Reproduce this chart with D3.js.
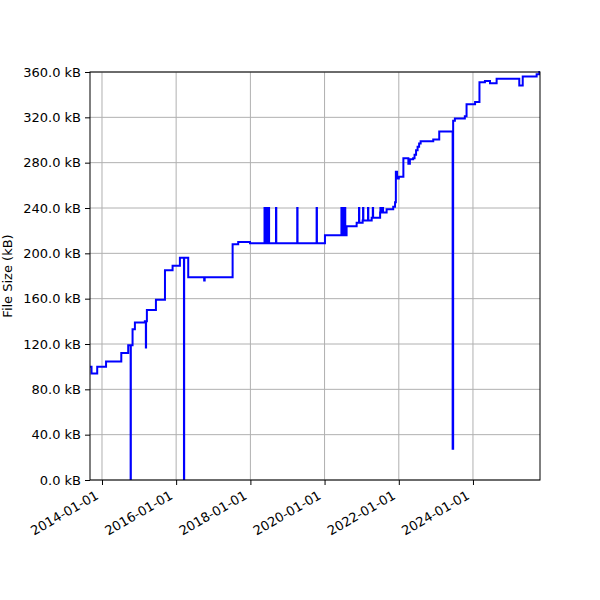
<!DOCTYPE html>
<html>
<head>
<meta charset="utf-8">
<script src="https://cdn.jsdelivr.net/npm/d3@7"></script>
<style>
  body { margin: 0; background: #fff; }
  svg text { font-family: "DejaVu Sans", sans-serif; }
</style>
</head>
<body>
<svg id="chart" width="600" height="600"></svg>
<script>
// commit dates and file sizes (kB)
const dates = [
  "2013-09-05", "2013-09-20", "2013-11-15", "2014-02-10", "2014-07-10", "2014-09-16",
  "2014-10-10", "2014-10-12", "2014-10-29", "2014-11-21", "2015-02-27", "2015-03-09",
  "2015-03-11", "2015-03-19", "2015-06-16", "2015-09-13", "2015-11-27", "2016-02-07",
  "2016-03-18", "2016-03-20", "2016-04-29", "2016-10-03", "2016-10-08", "2017-07-10",
  "2017-09-03", "2017-12-28",
  "2018-05-20", "2018-05-23", "2018-06-02", "2018-06-05", "2018-06-15", "2018-06-18",
  "2018-07-01", "2018-07-04", "2018-09-10", "2018-09-13", "2019-04-07", "2019-04-10",
  "2019-10-15", "2019-10-18", "2020-01-05",
  "2020-06-15", "2020-06-18", "2020-07-01", "2020-07-04", "2020-07-20", "2020-07-23",
  "2020-08-05", "2020-11-12", "2020-12-05", "2020-12-08", "2021-01-10", "2021-01-14",
  "2021-01-17", "2021-03-04", "2021-03-07", "2021-04-09", "2021-04-20", "2021-04-23",
  "2021-07-01", "2021-07-04", "2021-07-15", "2021-07-18", "2021-07-30", "2021-08-02",
  "2021-09-03", "2021-11-07", "2021-11-25", "2021-12-03", "2021-12-15", "2022-01-01",
  "2022-02-15", "2022-04-05", "2022-04-20", "2022-05-22", "2022-06-05", "2022-06-20",
  "2022-07-05", "2022-07-20", "2022-08-04", "2022-12-06", "2023-02-03", "2023-06-15",
  "2023-06-20", "2023-07-07", "2023-10-13", "2023-10-30", "2024-01-22", "2024-03-05",
  "2024-04-28", "2024-06-17", "2024-08-21", "2025-04-01", "2025-05-05", "2025-09-19",
  "2025-10-15", "2025-10-22"
];
const sizes = [
  100, 94, 100, 104.5, 112, 119,
  0, 119, 133, 139, 140, 117,
  140, 150, 159, 185, 189, 196,
  0, 196, 179, 176, 179, 208,
  210, 209,
  240, 209, 240, 209, 240, 209,
  240, 209, 240, 209, 240, 209,
  240, 209, 216,
  240, 216, 240, 216, 240, 216,
  224, 227, 240, 227, 229, 240,
  229, 240, 229, 231.5, 240, 231.5,
  236, 240, 236, 240, 236, 236,
  239, 241, 245, 272, 266, 267.6,
  284, 279, 283, 284, 287, 291,
  294, 297, 299, 300.5, 307.5, 27.5,
  317, 319, 321, 331.5, 333.5, 351,
  352, 350, 354, 348, 356, 358,
  360, 361
];
const yTicks = [0, 40, 80, 120, 160, 200, 240, 280, 320, 360];
const xTicks = ["2014-01-01", "2016-01-01", "2018-01-01", "2020-01-01", "2022-01-01", "2024-01-01"];

(function () {
  "use strict";

  const parse = d3.timeParse("%Y-%m-%d");
  const data = dates.map((d, i) => ({ date: parse(d), size: sizes[i] }));
  const font = "DejaVu Sans, sans-serif";

  const mLeft = 90, mRight = 540, mTop = 72, mBottom = 480;
  const svg = d3.select("#chart");

  const x = d3.scaleTime()
    .domain([parse("2013-09-05"), parse("2025-10-22")])
    .range([mLeft, mRight]);
  const y = d3.scaleLinear().domain([0, 360]).range([mBottom, mTop]);

  // grid
  const grid = svg.append("g").attr("stroke", "#b0b0b0").attr("stroke-width", 1);
  grid.selectAll("line.v").data(xTicks.map(parse)).enter().append("line")
    .attr("class", "v")
    .attr("x1", (d) => x(d)).attr("x2", (d) => x(d))
    .attr("y1", mTop).attr("y2", mBottom);
  grid.selectAll("line.h").data(yTicks).enter().append("line")
    .attr("class", "h")
    .attr("x1", mLeft).attr("x2", mRight)
    .attr("y1", (d) => y(d)).attr("y2", (d) => y(d));

  // step line
  const line = d3.line()
    .x((d) => x(d.date))
    .y((d) => y(d.size))
    .curve(d3.curveStepAfter);
  svg.append("defs").append("clipPath").attr("id", "clip")
    .append("rect").attr("x", mLeft).attr("y", mTop - 1)
    .attr("width", mRight - mLeft).attr("height", mBottom - mTop + 1);
  svg.append("path")
    .datum(data)
    .attr("clip-path", "url(#clip)")
    .attr("fill", "none")
    .attr("stroke", "#0000ff")
    .attr("stroke-width", 2)
    .attr("d", line);

  // axes
  const yAxis = d3.axisLeft(y).tickValues(yTicks)
    .tickFormat((d) => d.toFixed(1) + " kB").tickSize(5).tickPadding(4);
  const gy = svg.append("g").attr("transform", `translate(${mLeft},0)`).call(yAxis)
    .attr("font-family", font);
  gy.select(".domain").remove();
  gy.selectAll("text").attr("font-size", 13).attr("fill", "#000");
  gy.selectAll("line").attr("stroke", "#000").attr("stroke-width", 1);

  const xAxis = d3.axisBottom(x).tickValues(xTicks.map(parse))
    .tickFormat(d3.timeFormat("%Y-%m-%d")).tickSize(5);
  const gx = svg.append("g").attr("transform", `translate(0,${mBottom})`).call(xAxis)
    .attr("font-family", font);
  gx.select(".domain").remove();
  gx.selectAll("line").attr("stroke", "#000").attr("stroke-width", 1);
  gx.selectAll("text")
    .attr("font-size", 13).attr("fill", "#000")
    .attr("text-anchor", "end")
    .attr("dy", null).attr("y", 0)
    .attr("transform", "translate(-3,18) rotate(-30)");

  // frame
  svg.append("rect")
    .attr("x", mLeft).attr("y", mTop).attr("width", mRight - mLeft).attr("height", mBottom - mTop)
    .attr("fill", "none").attr("stroke", "#000").attr("stroke-width", 1);

  svg.append("text")
    .attr("transform", `translate(12,${(mTop + mBottom) / 2}) rotate(-90)`)
    .attr("text-anchor", "middle")
    .attr("font-family", font)
    .attr("font-size", 13)
    .text("File Size (kB)");
})();
</script>
</body>
</html>
